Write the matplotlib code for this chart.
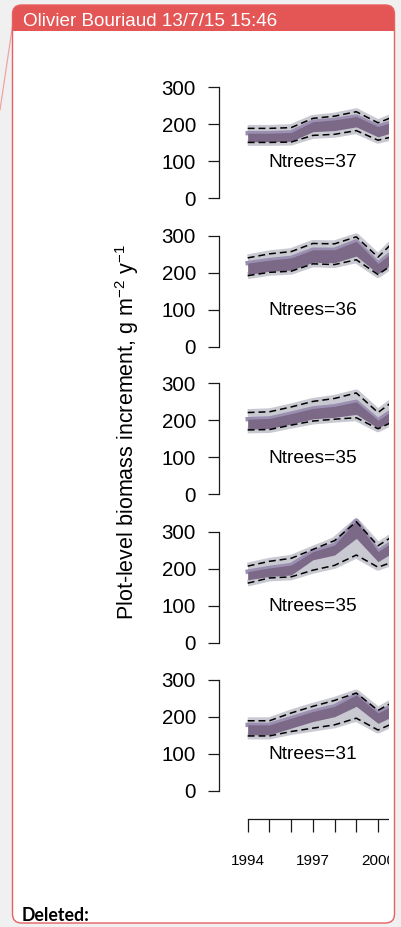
import numpy as np
import matplotlib.pyplot as plt
from matplotlib.patches import FancyBboxPatch, Rectangle

plt.rcParams['font.family'] = ['Liberation Sans', 'DejaVu Sans']
plt.rcParams['mathtext.fontset'] = 'custom'
plt.rcParams['mathtext.rm'] = 'Liberation Sans'
plt.rcParams['mathtext.it'] = 'Liberation Sans:italic'
plt.rcParams['mathtext.default'] = 'regular'

# data (g m-2 y-1), one list per panel
years = [1994, 1995, 1996, 1997, 1998, 1999, 2000, 2001]
ntrees = [37, 36, 35, 35, 31]

dash_hi = [
    [189, 189, 191, 216, 222, 234, 204, 227],
    [240, 251, 257, 279, 278, 297, 242, 300],
    [221, 223, 236, 251, 259, 274, 221, 265],
    [207, 220, 228, 252, 276, 327, 262, 300],
    [189, 189, 210, 228, 244, 264, 217, 250],
]
dash_lo = [
    [151, 151, 152, 170, 173, 183, 157, 171],
    [192, 201, 204, 224, 222, 235, 195, 235],
    [174, 175, 187, 198, 203, 207, 177, 205],
    [161, 175, 178, 196, 209, 237, 204, 225],
    [148, 148, 160, 169, 178, 196, 164, 190],
]
band_hi = [
    [176, 176, 178, 207, 212, 221, 194, 212],
    [226, 234, 240, 262, 262, 285, 225, 270],
    [203, 205, 218, 232, 238, 250, 200, 240],
    [192, 202, 210, 246, 264, 330, 246, 285],
    [178, 178, 196, 214, 228, 259, 210, 240],
]
band_lo = [
    [153, 153, 154, 180, 183, 193, 166, 184],
    [195, 204, 207, 228, 227, 245, 197, 238],
    [176, 178, 190, 204, 208, 216, 179, 210],
    [170, 179, 183, 224, 237, 282, 219, 255],
    [151, 151, 169, 187, 200, 228, 182, 210],
]
year_ticks = [1994, 1997, 2000]

W, H = 402, 927
fig = plt.figure(figsize=(W / 100, H / 100), dpi=100)
fig.patch.set_facecolor('#f0f0f0')


def fbox(x0, y0, x1, y1):
    # pixel box (top-left origin) -> figure fraction rect
    return [x0 / W, 1 - y1 / H, (x1 - x0) / W, (y1 - y0) / H]


red = '#e45656'

# comment balloon behind everything
bg = fig.add_axes([0, 0, 1, 1], zorder=0)
bg.set_xlim(0, W)
bg.set_ylim(H, 0)
bg.axis('off')
bg.plot([12.5, 0], [26, 110], color='#f2a3a3', lw=0.9)
bg.add_patch(FancyBboxPatch((12.5, 5), 382, 918, boxstyle='round,pad=0,rounding_size=9',
                            facecolor='white', edgecolor='none'))
bg.add_patch(FancyBboxPatch((12.5, 5), 382, 40, boxstyle='round,pad=0,rounding_size=9',
                            facecolor=red, edgecolor='none'))
bg.add_patch(Rectangle((12.5, 31), 382, 20, facecolor='white', edgecolor='none'))
bg.text(23, 26, 'Olivier Bouriaud 13/7/15 15:46', color='white', fontsize=13.6, va='baseline')
bg.text(22, 921, 'Deleted:', family=['Lato', 'DejaVu Sans'], fontweight='bold',
        fontsize=12.8, va='baseline', color='black')

# panel geometry
px_per_unit = 111 / 300
zero_px = [198.3, 346.7, 494.3, 642.7, 790.7]
x_left, x_right = 219.5, 389.5
x_1994, px_per_year = 247.7, 21.72
xmin = 1994 - (x_1994 - x_left) / px_per_year
xmax = 1994 + (x_right - x_1994) / px_per_year
ymin, ymax = -20, 360

gray = '#c9c9d2'
lav = '#9b90b2'
purple = '#7c6887'
axcol = '#1a1a1a'

for i in range(5):
    y0 = zero_px[i]
    ax = fig.add_axes(fbox(x_left, y0 - ymax * px_per_unit, x_right, y0 - ymin * px_per_unit), zorder=1)
    ax.patch.set_visible(False)

    ax.fill_between(years, dash_lo[i], dash_hi[i], color=gray, lw=0, zorder=1)
    ax.plot(years, dash_hi[i], color=gray, lw=5, solid_capstyle='butt', solid_joinstyle='round', zorder=1)
    ax.plot(years, dash_lo[i], color=gray, lw=5, solid_capstyle='butt', solid_joinstyle='round', zorder=1)
    ax.plot(years, band_hi[i], color=lav, lw=3.2, solid_joinstyle='round', zorder=2)
    ax.fill_between(years, band_lo[i], band_hi[i], color=purple, lw=0, zorder=3)
    ax.plot(years, dash_hi[i], color='black', lw=1.1, dashes=(4.5, 2.6), zorder=4)
    ax.plot(years, dash_lo[i], color='black', lw=1.1, dashes=(4.5, 2.6), zorder=4)

    ax.text(1997, 97, 'Ntrees=%d' % ntrees[i], ha='center', va='center', fontsize=13.8)

    for s in ['top', 'right', 'bottom']:
        ax.spines[s].set_visible(False)
    ax.spines['left'].set_bounds(0, 300)
    ax.spines['left'].set_color(axcol)
    ax.spines['left'].set_linewidth(0.9)
    ax.set_yticks([0, 100, 200, 300])
    ax.tick_params(axis='y', length=8, width=0.9, color=axcol, pad=9, labelsize=14.8)
    ax.set_xticks([])
    ax.set_xlim(xmin, xmax)
    ax.set_ylim(ymin, ymax)

# x axis under the last panel
xa = fig.add_axes(fbox(x_left, 805, x_right, 819), zorder=1)
xa.patch.set_visible(False)
for s in ['top', 'right', 'left']:
    xa.spines[s].set_visible(False)
xa.set_yticks([])
xa.set_xticks(years)
xa.set_xticklabels([str(y) if y in year_ticks else '' for y in years])
xa.set_xlim(xmin, xmax)
xa.spines['bottom'].set_bounds(1994, 2001)
xa.spines['bottom'].set_color(axcol)
xa.spines['bottom'].set_linewidth(0.9)
xa.tick_params(axis='x', length=9.4, width=0.9, color=axcol, pad=16, labelsize=11)

fig.text(127 / W, 1 - 432 / H, r'Plot-level biomass increment, g m$^{-2}$ y$^{-1}$',
         rotation=90, ha='center', va='center', fontsize=15.5)

# right edge of the balloon crops the plot
ov = fig.add_axes([0, 0, 1, 1], zorder=10)
ov.set_xlim(0, W)
ov.set_ylim(H, 0)
ov.axis('off')
ov.patch.set_visible(False)
ov.add_patch(Rectangle((x_right, 35), 394.5 - x_right, 880, facecolor='white', edgecolor='none'))
ov.add_patch(Rectangle((395, 0), 10, H, facecolor='#f0f0f0', edgecolor='none'))
ov.add_patch(FancyBboxPatch((12.5, 5), 382, 918, boxstyle='round,pad=0,rounding_size=9',
                            facecolor='none', edgecolor='#e86060', lw=1.0))

fig.savefig('out.png', dpi=100, facecolor=fig.get_facecolor())
